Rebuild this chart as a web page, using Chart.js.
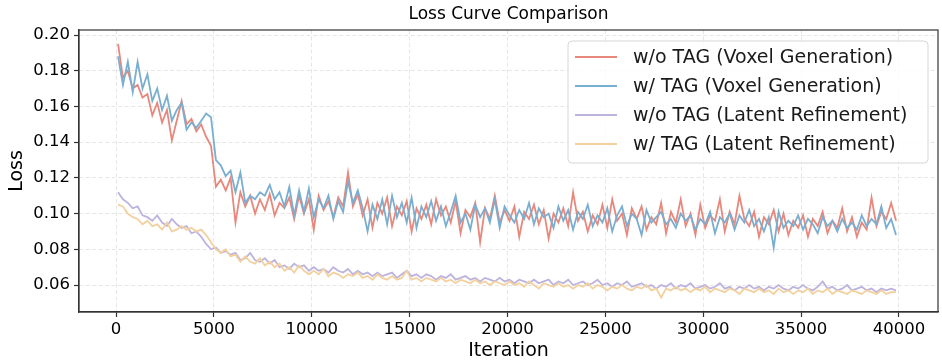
<!DOCTYPE html>
<html lang="en">
<head>
    <meta charset="UTF-8">
    <title>Loss Curve Comparison</title>
    <script src="https://cdn.jsdelivr.net/npm/chart.js"></script>
    <style>
        body {
            margin: 0;
            background: #ffffff;
        }
        #wrap {
            width: 942px;
            height: 362px;
        }
    </style>
</head>
<body>
    <div id="wrap">
        <canvas id="lossChart" width="942" height="362"></canvas>
    </div>

    <script>
        // sampled every 250 iterations starting at 100
        const firstIter = 100;
        const iterStep = 250;

        const voxelNoTag = [
            0.195, 0.176, 0.180, 0.170, 0.172, 0.165, 0.167, 0.155, 0.162, 0.151,
            0.158, 0.141, 0.152, 0.163, 0.150, 0.153, 0.146, 0.150, 0.143, 0.138,
            0.115, 0.119, 0.113, 0.120, 0.095, 0.112, 0.104, 0.110, 0.100, 0.108,
            0.102, 0.111, 0.099, 0.106, 0.103, 0.109, 0.097, 0.110, 0.100, 0.108,
            0.091, 0.110, 0.102, 0.107, 0.098, 0.109, 0.104, 0.123, 0.104, 0.111,
            0.099, 0.108, 0.092, 0.106, 0.100, 0.109, 0.093, 0.104, 0.099, 0.107,
            0.090, 0.103, 0.097, 0.105, 0.094, 0.108, 0.099, 0.104, 0.095, 0.107,
            0.089, 0.102, 0.098, 0.106, 0.084, 0.103, 0.097, 0.110, 0.095, 0.102,
            0.096, 0.104, 0.087, 0.101, 0.097, 0.105, 0.094, 0.102, 0.086, 0.100,
            0.095, 0.103, 0.093, 0.112, 0.096, 0.101, 0.090, 0.099, 0.094, 0.105,
            0.092, 0.108, 0.096, 0.100, 0.088, 0.103, 0.097, 0.104, 0.091, 0.098,
            0.094, 0.106, 0.089, 0.101, 0.095, 0.108, 0.093, 0.100, 0.088, 0.105,
            0.092, 0.099, 0.096, 0.108, 0.090, 0.101, 0.094, 0.110, 0.097, 0.093,
            0.101, 0.087, 0.098, 0.094, 0.102, 0.090, 0.100, 0.088, 0.096, 0.092,
            0.099, 0.087, 0.097, 0.093, 0.101, 0.089, 0.096, 0.092, 0.103, 0.090,
            0.098, 0.087, 0.095, 0.091, 0.109, 0.093, 0.101, 0.097, 0.106, 0.096
        ];

        const voxelTag = [
            0.188, 0.172, 0.185, 0.168, 0.185, 0.170, 0.178, 0.163, 0.170, 0.158,
            0.166, 0.152, 0.158, 0.162, 0.147, 0.151, 0.148, 0.152, 0.156, 0.154,
            0.130, 0.127, 0.121, 0.124, 0.112, 0.123, 0.106, 0.110, 0.108, 0.112,
            0.110, 0.116, 0.108, 0.112, 0.104, 0.115, 0.099, 0.113, 0.101, 0.114,
            0.098, 0.108, 0.103, 0.110, 0.097, 0.107, 0.101, 0.118, 0.106, 0.113,
            0.103, 0.090, 0.105, 0.097, 0.108, 0.094, 0.110, 0.098, 0.106, 0.095,
            0.109, 0.092, 0.104, 0.098, 0.107, 0.096, 0.104, 0.093, 0.101, 0.110,
            0.095, 0.100, 0.091, 0.105, 0.098, 0.103, 0.095, 0.108, 0.092, 0.104,
            0.099, 0.095, 0.102, 0.097, 0.106, 0.094, 0.103, 0.098, 0.100, 0.092,
            0.104, 0.096, 0.102, 0.091, 0.101, 0.097, 0.105, 0.093, 0.099, 0.095,
            0.103, 0.090, 0.099, 0.104, 0.093, 0.100, 0.097, 0.088, 0.102, 0.095,
            0.098, 0.101, 0.094, 0.097, 0.092, 0.100, 0.096, 0.099, 0.091, 0.097,
            0.094, 0.101, 0.089, 0.098, 0.095, 0.100, 0.091, 0.099, 0.095, 0.102,
            0.093, 0.097, 0.090, 0.098, 0.081, 0.101, 0.092, 0.096, 0.093, 0.099,
            0.091, 0.097, 0.094, 0.089, 0.098, 0.093, 0.096, 0.090, 0.097, 0.092,
            0.095, 0.091, 0.099, 0.093, 0.097, 0.094, 0.104, 0.092, 0.097, 0.088
        ];

        const latentNoTag = [
            0.112, 0.108, 0.106, 0.103, 0.104, 0.099, 0.098, 0.096, 0.099, 0.095,
            0.093, 0.097, 0.094, 0.092, 0.093, 0.089, 0.090, 0.087, 0.083, 0.080,
            0.081, 0.078, 0.079, 0.077, 0.078, 0.074, 0.075, 0.078, 0.074, 0.073,
            0.075, 0.072, 0.074, 0.070, 0.071, 0.069, 0.072, 0.070, 0.071, 0.068,
            0.070, 0.068, 0.069, 0.067, 0.070, 0.068, 0.067, 0.069, 0.066, 0.068,
            0.066, 0.067, 0.065, 0.067, 0.065, 0.066, 0.067, 0.064, 0.066, 0.068,
            0.065, 0.066, 0.064, 0.066, 0.065, 0.063, 0.065, 0.064, 0.066, 0.063,
            0.064, 0.065, 0.063, 0.064, 0.062, 0.064, 0.063, 0.062, 0.064, 0.062,
            0.063, 0.061, 0.063, 0.062, 0.061, 0.063, 0.061, 0.062, 0.063, 0.060,
            0.062, 0.061, 0.063, 0.060, 0.061, 0.062, 0.060, 0.061, 0.063, 0.060,
            0.061, 0.059, 0.061, 0.060, 0.062, 0.059, 0.060, 0.061, 0.059, 0.060,
            0.058, 0.060, 0.059, 0.061, 0.058, 0.060, 0.059, 0.061, 0.058, 0.059,
            0.060, 0.058, 0.059, 0.061, 0.058, 0.059, 0.057, 0.059, 0.058, 0.060,
            0.058, 0.059, 0.057, 0.059, 0.058, 0.060, 0.058, 0.057, 0.059, 0.058,
            0.060, 0.058, 0.057, 0.059, 0.062, 0.058, 0.059, 0.057, 0.058, 0.060,
            0.057, 0.058, 0.059, 0.057, 0.058, 0.056, 0.058, 0.057, 0.058, 0.057
        ];

        const latentTag = [
            0.105, 0.104, 0.100, 0.098, 0.097, 0.094, 0.096, 0.093, 0.094, 0.091,
            0.095, 0.090, 0.091, 0.093, 0.091, 0.092, 0.090, 0.091, 0.088, 0.084,
            0.080, 0.078, 0.080, 0.076, 0.077, 0.073, 0.076, 0.073, 0.072, 0.075,
            0.071, 0.073, 0.070, 0.072, 0.068, 0.070, 0.067, 0.071, 0.068, 0.066,
            0.068, 0.066, 0.069, 0.065, 0.067, 0.066, 0.064, 0.066, 0.065, 0.067,
            0.064, 0.065, 0.063, 0.066, 0.064, 0.063, 0.065, 0.063, 0.064, 0.068,
            0.063, 0.064, 0.062, 0.064, 0.063, 0.062, 0.064, 0.062, 0.063, 0.061,
            0.063, 0.062, 0.061, 0.063, 0.061, 0.062, 0.060, 0.062, 0.061, 0.060,
            0.062, 0.060, 0.061, 0.059, 0.062, 0.060, 0.058, 0.061, 0.060, 0.059,
            0.061, 0.059, 0.060, 0.058, 0.060, 0.059, 0.061, 0.058, 0.060, 0.059,
            0.057, 0.059, 0.058, 0.060, 0.058, 0.057, 0.059, 0.058, 0.060, 0.057,
            0.058, 0.053, 0.058, 0.057, 0.059, 0.057, 0.058, 0.056, 0.058, 0.057,
            0.059, 0.056, 0.058, 0.057, 0.056, 0.058, 0.057, 0.055, 0.058, 0.057,
            0.056, 0.058, 0.056, 0.057, 0.055, 0.058, 0.056, 0.057, 0.055, 0.057,
            0.056, 0.058, 0.055, 0.057, 0.056, 0.058, 0.055, 0.057, 0.056, 0.055,
            0.057, 0.056, 0.055, 0.057, 0.056, 0.055, 0.057, 0.055, 0.056, 0.056
        ];

        const iterations = voxelNoTag.map((_, i) => firstIter + i * iterStep);

        const seriesLabels = [
            'w/o TAG (Voxel Generation)',
            'w/ TAG (Voxel Generation)',
            'w/o TAG (Latent Refinement)',
            'w/ TAG (Latent Refinement)'
        ];
        const seriesColors = ['#e8877b', '#7aaed0', '#bdb3de', '#f2d19f'];
        const seriesValues = [voxelNoTag, voxelTag, latentNoTag, latentTag];

        const xTicks = [0, 5000, 10000, 15000, 20000, 25000, 30000, 35000, 40000];
        const yTicks = [0.06, 0.08, 0.10, 0.12, 0.14, 0.16, 0.18, 0.20];

        const chartTitle = 'Loss Curve Comparison';
        const FONT = "'DejaVu Sans', sans-serif";
        const gridColor = 'rgba(200, 200, 200, 0.45)';

        // matplotlib style box around the plot + title centred over the axes
        const framePlugin = {
            id: 'frame',
            afterDatasetsDraw(chart) {
                const { ctx, chartArea } = chart;
                ctx.save();
                ctx.strokeStyle = '#333333';
                ctx.lineWidth = 1.2;
                ctx.strokeRect(chartArea.left, chartArea.top, chartArea.right - chartArea.left, chartArea.bottom - chartArea.top);

                ctx.fillStyle = '#000000';
                ctx.font = '17px ' + FONT;
                ctx.textAlign = 'center';
                ctx.textBaseline = 'middle';
                ctx.fillText(chartTitle, (chartArea.left + chartArea.right) / 2, chartArea.top - 15);
                ctx.restore();
            }
        };

        // legend box inside the plot, upper right
        const insideLegend = {
            id: 'insideLegend',
            afterDraw(chart) {
                const { ctx, chartArea } = chart;
                const boxRight = chartArea.right - 10;
                const boxLeft = boxRight - 360;
                const boxTop = chartArea.top + 11;
                const rowGap = 29;
                const boxHeight = 122;

                ctx.save();
                ctx.beginPath();
                ctx.roundRect(boxLeft, boxTop, boxRight - boxLeft, boxHeight, 4);
                ctx.fillStyle = 'rgba(255, 255, 255, 0.85)';
                ctx.fill();
                ctx.strokeStyle = '#d6d6d6';
                ctx.lineWidth = 1;
                ctx.stroke();

                ctx.font = '19px ' + FONT;
                ctx.textBaseline = 'middle';
                chart.data.datasets.forEach((ds, i) => {
                    const y = boxTop + 16 + i * rowGap;
                    ctx.strokeStyle = ds.borderColor;
                    ctx.lineWidth = 2;
                    ctx.beginPath();
                    ctx.moveTo(boxLeft + 7, y);
                    ctx.lineTo(boxLeft + 49, y);
                    ctx.stroke();
                    ctx.fillStyle = '#1a1a1a';
                    ctx.fillText(ds.label, boxLeft + 65, y + 1);
                });
                ctx.restore();
            }
        };

        const datasets = seriesValues.map((vals, i) => ({
            label: seriesLabels[i],
            data: vals.map((v, j) => ({ x: iterations[j], y: v })),
            borderColor: seriesColors[i],
            borderWidth: 1.8,
            pointRadius: 0,
            tension: 0,
            fill: false,
            order: 4 - i
        }));

        const ctx = document.getElementById('lossChart').getContext('2d');
        const chart = new Chart(ctx, {
            type: 'line',
            data: { datasets: datasets },
            options: {
                responsive: false,
                animation: false,
                events: [],
                layout: {
                    padding: { left: 0, right: 4, top: 30, bottom: 0 }
                },
                plugins: {
                    legend: { display: false },
                    tooltip: { enabled: false },
                    title: { display: false }
                },
                scales: {
                    x: {
                        type: 'linear',
                        min: -1895,
                        max: 41995,
                        afterBuildTicks: (scale) => {
                            scale.ticks = xTicks.map(v => ({ value: v }));
                        },
                        afterFit: (scale) => {
                            scale.height = 50;
                        },
                        ticks: {
                            color: '#000000',
                            font: { family: FONT, size: 16.5 },
                            padding: 3,
                            maxRotation: 0,
                            callback: (v) => String(v)
                        },
                        grid: {
                            color: gridColor,
                            lineWidth: 1,
                            tickColor: '#333333',
                            tickLength: 5,
                            tickWidth: 1.2
                        },
                        border: {
                            display: true,
                            color: '#333333',
                            width: 1.2,
                            dash: [4, 2.5]
                        },
                        title: {
                            display: true,
                            text: 'Iteration',
                            color: '#000000',
                            font: { family: FONT, size: 19 },
                            padding: { top: 0, bottom: 0 }
                        }
                    },
                    y: {
                        type: 'linear',
                        min: 0.0449,
                        max: 0.2028,
                        afterBuildTicks: (scale) => {
                            scale.ticks = yTicks.map(v => ({ value: v }));
                        },
                        afterFit: (scale) => {
                            scale.width = 79;
                        },
                        ticks: {
                            color: '#000000',
                            font: { family: FONT, size: 16.5 },
                            padding: 4,
                            callback: (v) => v.toFixed(2)
                        },
                        grid: {
                            color: gridColor,
                            lineWidth: 1,
                            tickColor: '#333333',
                            tickLength: 5,
                            tickWidth: 1.2
                        },
                        border: {
                            display: true,
                            color: '#333333',
                            width: 1.2,
                            dash: [4, 2.5]
                        },
                        title: {
                            display: true,
                            text: 'Loss',
                            color: '#000000',
                            font: { family: FONT, size: 19 },
                            padding: { top: 6, bottom: 0 }
                        }
                    }
                }
            },
            plugins: [framePlugin, insideLegend]
        });
    </script>
</body>
</html>
